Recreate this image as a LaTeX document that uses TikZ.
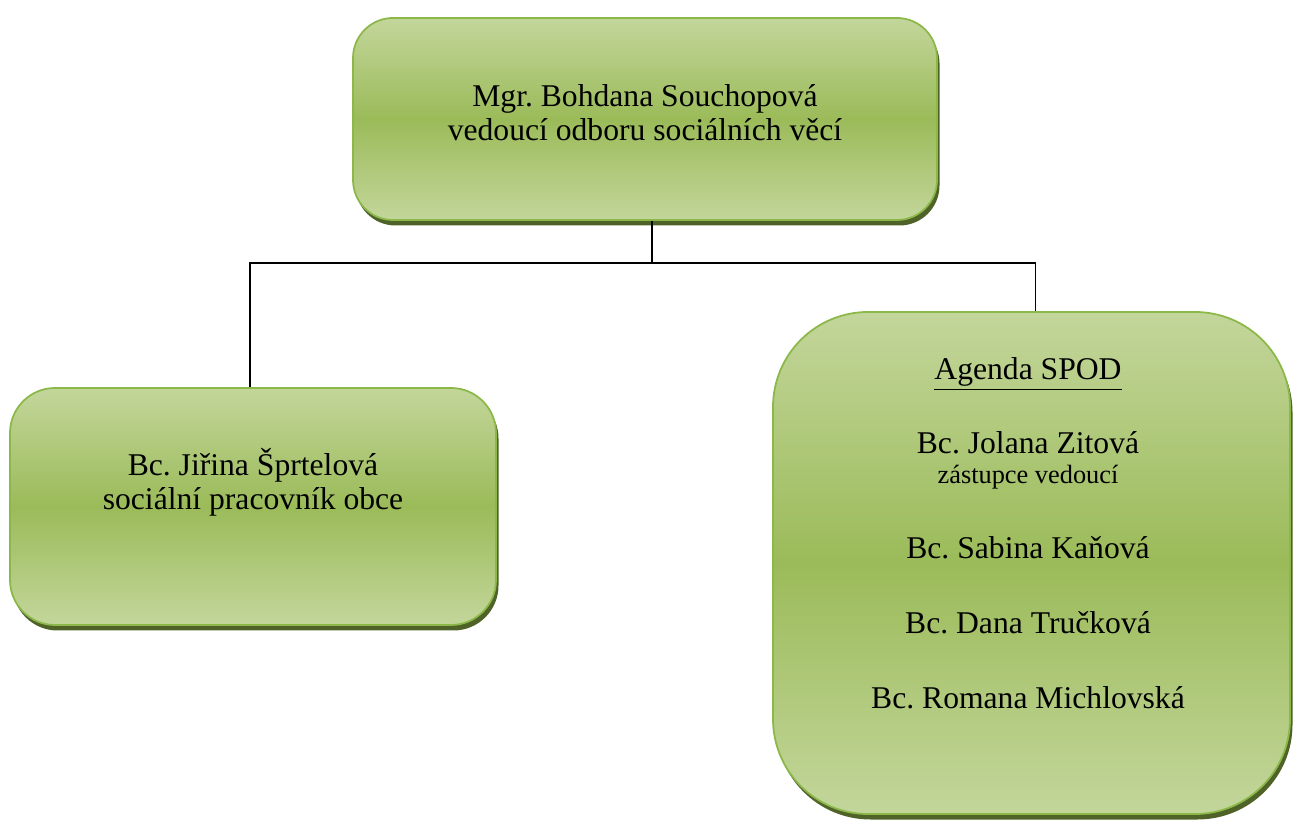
\documentclass[tikz,border=0pt]{standalone}
\usepackage{fontspec}
\setmainfont{Liberation Serif}
\usetikzlibrary{shadows}
\frenchspacing

\definecolor{boxlight}{HTML}{C3D69B}
\definecolor{boxmid}{HTML}{9BBB59}
\definecolor{boxedge}{HTML}{8CB84A}
\definecolor{boxshadow}{HTML}{4F6228}

\tikzset{
  orgbox/.style={rectangle, draw=boxedge, line width=1pt,
    top color=boxlight, bottom color=boxlight, middle color=boxmid,
    general shadow={fill=boxshadow, shadow xshift=0.05cm, shadow yshift=-0.11cm},
    inner sep=0pt},
  nametext/.style={font=\fontsize{18}{19.5}\selectfont, align=center, anchor=base},
  roletext/.style={font=\fontsize{15}{17}\selectfont, anchor=base},
  connector/.style={draw=black, line width=0.6pt}
}

\begin{document}
\begin{tikzpicture}
            \useasboundingbox (0,0) rectangle (25.9,16.4);

            % Boxes of the chart
            \node[orgbox, minimum width=11.68cm, minimum height=4.04cm, rounded corners=0.8cm] (head) at (12.9,14.02) {};
            \node[orgbox, minimum width=9.72cm, minimum height=4.74cm, rounded corners=0.9cm] (obec) at (5.06,6.27) {};
            \node[orgbox, minimum width=10.34cm, minimum height=10.04cm, rounded corners=1.9cm] (spod) at (20.63,5.14) {};

            % Texts in the boxes (base = last line)
            \node[nametext] (souchopova) at (12.9,13.58) {Mgr. Bohdana Souchopová\\vedoucí odboru sociálních věcí};
            \node[nametext] (sprtelova) at (5.06,6.2) {Bc. Jiřina Šprtelová\\sociální pracovník obce};
            \node[nametext] (agenda) at (20.56,8.8) {\underline{Agenda SPOD}};
            \node[nametext] (zitova) at (20.56,7.32) {Bc. Jolana Zitová};
            \node[roletext] (zitovarole) at (20.56,6.72) {zástupce vedoucí};
            \node[nametext] (kanova) at (20.56,5.22) {Bc. Sabina Kaňová};
            \node[nametext] (truckova) at (20.56,3.72) {Bc. Dana Tručková};
            \node[nametext] (michlovska) at (20.56,2.22) {Bc. Romana Michlovská};

            % Connectors
            \coordinate (busy) at (0,11.14);
            \coordinate (headfoot) at ([xshift=0.14cm]head.south);
            \draw[connector] (headfoot) -- (headfoot |- busy);
            \draw[connector] ([xshift=-0.06cm]obec.north) |- (headfoot |- busy) -| ([xshift=0.08cm]spod.north);
\end{tikzpicture}
\end{document}
